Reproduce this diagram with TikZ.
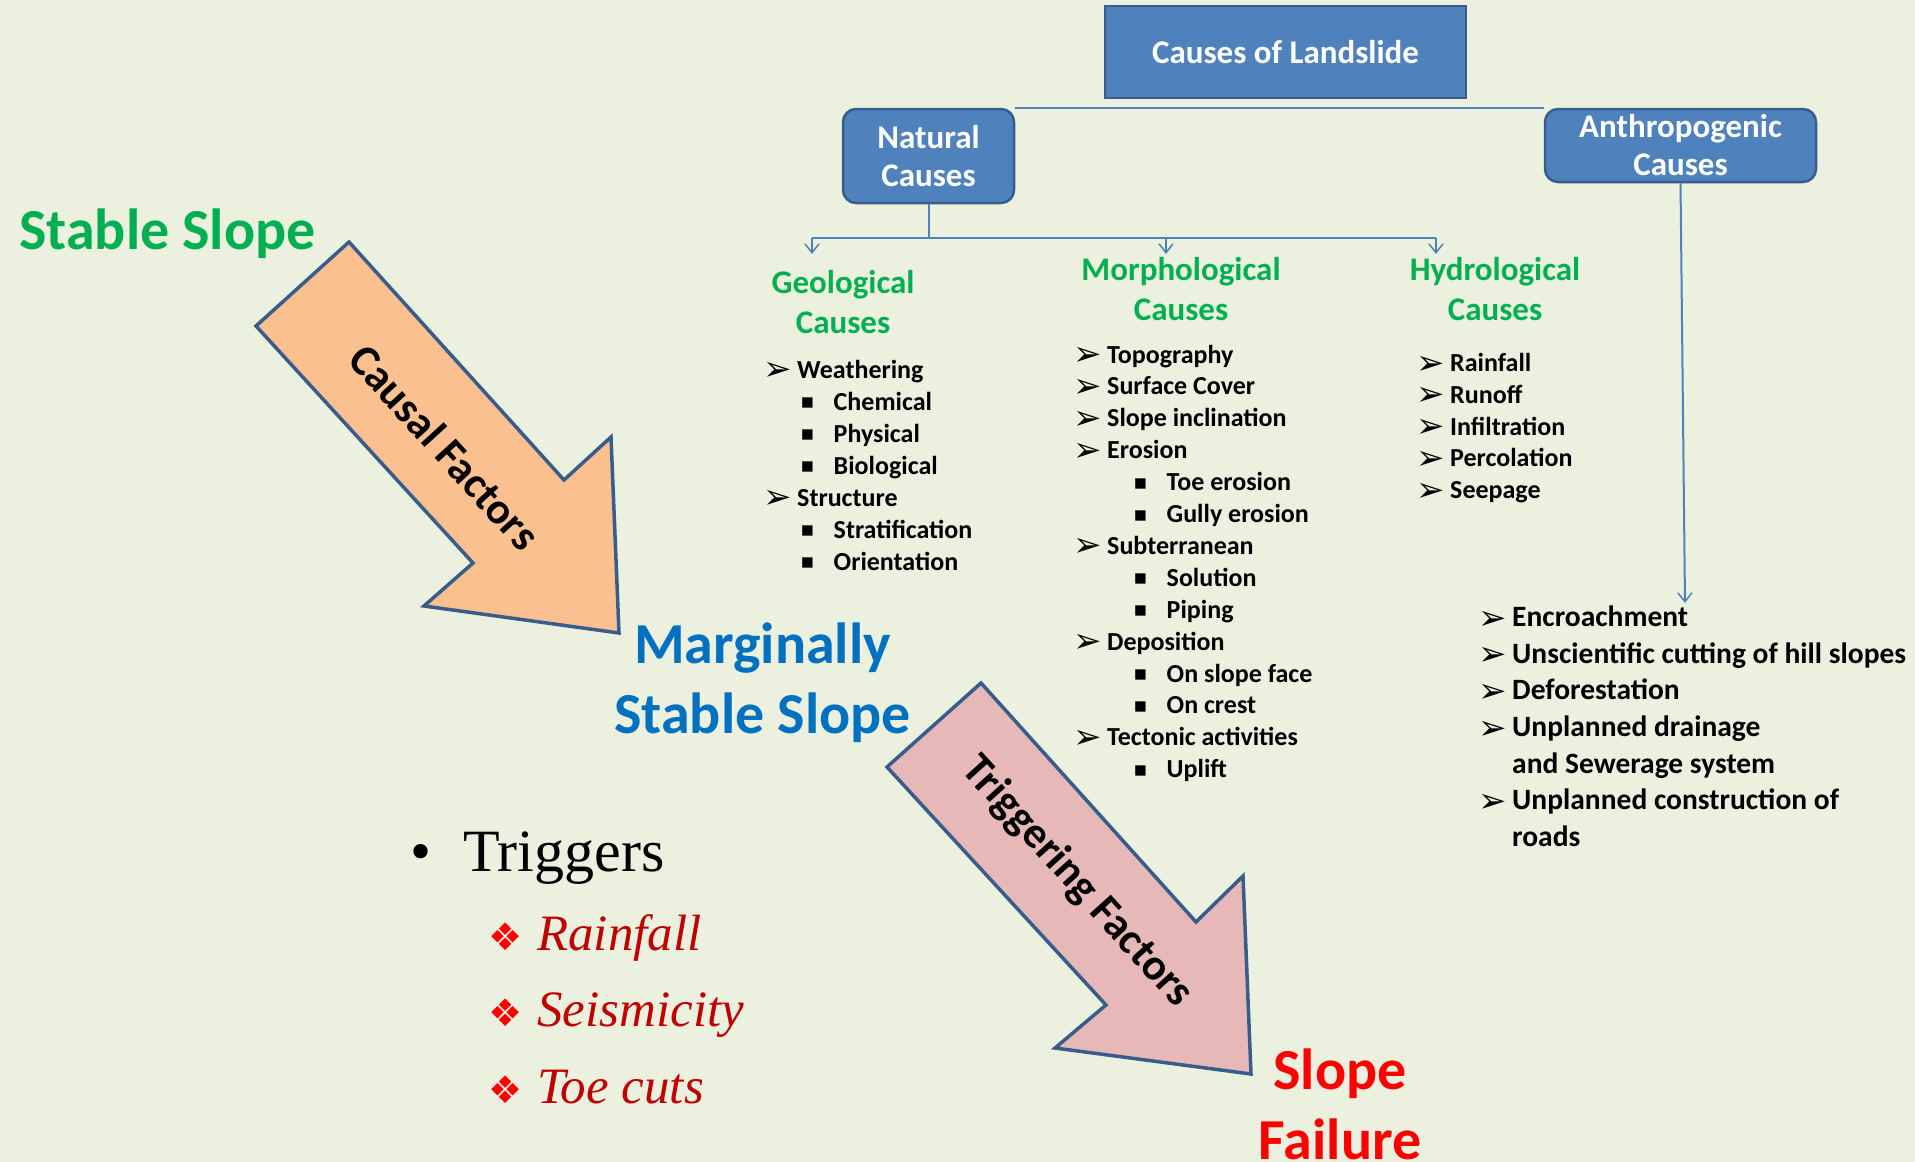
\documentclass[tikz,border=0pt]{standalone}
\usepackage{fontspec}
\setmainfont{Carlito}
\newfontfamily\serifface{Liberation Serif}
\newfontfamily\symface{DejaVu Sans}
\usetikzlibrary{arrows.meta, positioning, calc}
\tikzset{
  node distance=1.5cm,
  every node/.style={align=center}
}

\definecolor{slidebg}{HTML}{EBF1DE}
\definecolor{boxfill}{HTML}{4F81BD}
\definecolor{boxedge}{HTML}{385D8A}
\definecolor{linkblue}{HTML}{4F81BD}
\definecolor{headgreen}{HTML}{00B050}
\definecolor{marginblue}{HTML}{0070C0}
\definecolor{failred}{HTML}{FF0000}
\definecolor{triggerred}{HTML}{C00000}
\definecolor{causalfill}{HTML}{FAC090}
\definecolor{triggerfill}{HTML}{E6B9B8}

% list bullets
\newcommand{\arrbul}{{\symface\fontsize{34}{34}\selectfont\raisebox{-2.5pt}{➢}}}
\newcommand{\sqbul}{{\symface\fontsize{13.5}{13.5}\selectfont\raisebox{3.5pt}{■}}}
\newcommand{\lsmark}[1]{\ifcase#1\relax
  \makebox[34pt][l]{\arrbul}\or
  \makebox[32.5pt][l]{\sqbul}\or
  \makebox[34pt][l]{}\fi}

\begin{document}
\begin{tikzpicture}[x=1pt, y=-1pt]
\tikzstyle{topbox}=[rectangle, draw=boxedge, fill=boxfill, line width=2.5pt,
  text=white, inner sep=0pt, font=\bfseries\fontsize{33}{38}\selectfont]
\tikzstyle{causebox}=[topbox, rounded corners=13pt]
\tikzstyle{heading}=[text=headgreen, inner sep=0pt,
  font=\bfseries\fontsize{33}{40}\selectfont]
\tikzstyle{item}=[anchor=base west, inner sep=0pt, align=left,
  font=\bfseries\fontsize{26}{32}\selectfont]
\tikzstyle{bigitem}=[item, font=\bfseries\fontsize{29.5}{36}\selectfont]
\tikzstyle{stage}=[inner sep=0pt, font=\bfseries\fontsize{58}{70}\selectfont]
\tikzstyle{factor}=[inner sep=0pt, font=\bfseries\fontsize{44}{50}\selectfont]
\tikzstyle{trigger}=[anchor=base west, inner sep=0pt,
  font=\serifface\fontsize{60}{70}\selectfont]
\tikzstyle{cause}=[anchor=base west, inner sep=0pt, text=triggerred,
  font=\serifface\itshape\fontsize{51}{60}\selectfont]
\tikzstyle{link}=[draw=linkblue, line width=2pt]
\tikzstyle{branch}=[link, -{Straight Barb[length=9pt,width=14pt,line width=1.5pt]}]
\tikzstyle{bigarrow}=[draw=boxedge, line width=3.5pt, line join=miter]

\fill[slidebg] (0,0) rectangle (1915,1162);
\useasboundingbox (0,0) rectangle (1915,1162);

% causes tree
\node[topbox, minimum width=361pt, minimum height=92pt](root) at (1285.5,52)
  {Causes of Landslide};
\node[causebox, minimum width=171pt, minimum height=94pt](nat) at (928.5,156)
  {Natural\\Causes};
\node[causebox, minimum width=271pt, minimum height=73pt](anth) at (1680.5,145.5)
  {Anthropogenic\\Causes};
\draw[link](nat.north east) to (anth.north west);

\draw[link](nat.south) -- ++(0,34) coordinate (fork);
\coordinate (geoin) at (812,254);
\coordinate (morphin) at (1166,254);
\coordinate (hydin) at (1436,254);
\draw[link](geoin |- fork) -- (hydin |- fork);
\draw[branch](geoin |- fork) -- (geoin);
\draw[branch](morphin |- fork) -- (morphin);
\draw[branch](hydin |- fork) -- (hydin);

\coordinate (anthin) at (1685,603);
\draw[branch](anth.south) -- (anthin);

% natural groups (base = last line)
\node[heading, anchor=base](geohead) at (843,333) {Geological\\Causes};
\node[heading, anchor=base](morphhead) at (1181,320) {Morphological\\Causes};
\node[heading, anchor=base](hydhead) at (1495,320) {Hydrological\\Causes};

\foreach \lvl/\txt [count=\i from 0] in {0/Weathering, 1/Chemical, 1/Physical,
    1/Biological, 0/Structure, 1/Stratification, 1/Orientation}
  \node[item](geo\i) at ({763+38*\lvl}, {378+32*\i}) {\lsmark{\lvl}\txt};

\foreach \lvl/\txt [count=\i from 0] in {0/Topography, 0/Surface Cover,
    0/Slope inclination, 0/Erosion, 1/Toe erosion, 1/Gully erosion,
    0/Subterranean, 1/Solution, 1/Piping, 0/Deposition, 1/On slope face,
    1/On crest, 0/Tectonic activities, 1/Uplift}
  \node[item](morph\i) at ({1073+61*\lvl}, {363+31.9*\i}) {\lsmark{\lvl}\txt};

\foreach \txt [count=\i from 0] in {Rainfall, Runoff, Infiltration,
    Percolation, Seepage}
  \node[item](hyd\i) at (1416, {371.5+31.8*\i}) {\lsmark{0}\txt};

% anthropogenic list
\foreach \lvl/\txt [count=\i from 0] in {0/Encroachment,
    0/Unscientific cutting of hill slopes, 0/Deforestation,
    0/Unplanned drainage, 2/and Sewerage system,
    0/Unplanned construction of, 2/roads}
  \node[bigitem](anthitem\i) at (1478, {626.7+36.6*\i}) {\lsmark{\lvl}\txt};

% slope stages
\node[stage, text=headgreen, anchor=base west](stable) at (19,249) {Stable Slope};
\node[stage, text=marginblue, anchor=base](marginal) at (762.5,733)
  {Marginally\\Stable Slope};
\node[stage, text=failred, anchor=base](failure) at (1340,1159) {Slope\\Failure};

% causal factors arrow
\draw[bigarrow, fill=causalfill] (349,242) -- (256,326) -- (473,563) -- (424,606)
  -- (619,633) -- (611,437) -- (564,480) -- cycle;
\node[factor, rotate=-47.7](causal) at (445,447) {Causal Factors};

% triggering factors arrow
\draw[bigarrow, fill=triggerfill] (981,683) -- (887,767) -- (1106,1005)
  -- (1055,1048) -- (1251,1074) -- (1243,876) -- (1196,922) -- cycle;
\node[factor, rotate=-47.9](triggering) at (1077,882) {Triggering Factors};

% triggers
\node[trigger](trig) at (410,871.7) {\makebox[53pt][l]{•}Triggers};
\foreach \txt [count=\i from 0] in {Rainfall, Seismicity, Toe cuts}
  \node[cause](cause\i) at (488, {950+76.5*\i})
    {\makebox[49pt][l]{\color{failred}\symface\fontsize{38}{38}\selectfont ❖}\txt};

\end{tikzpicture}
\end{document}
